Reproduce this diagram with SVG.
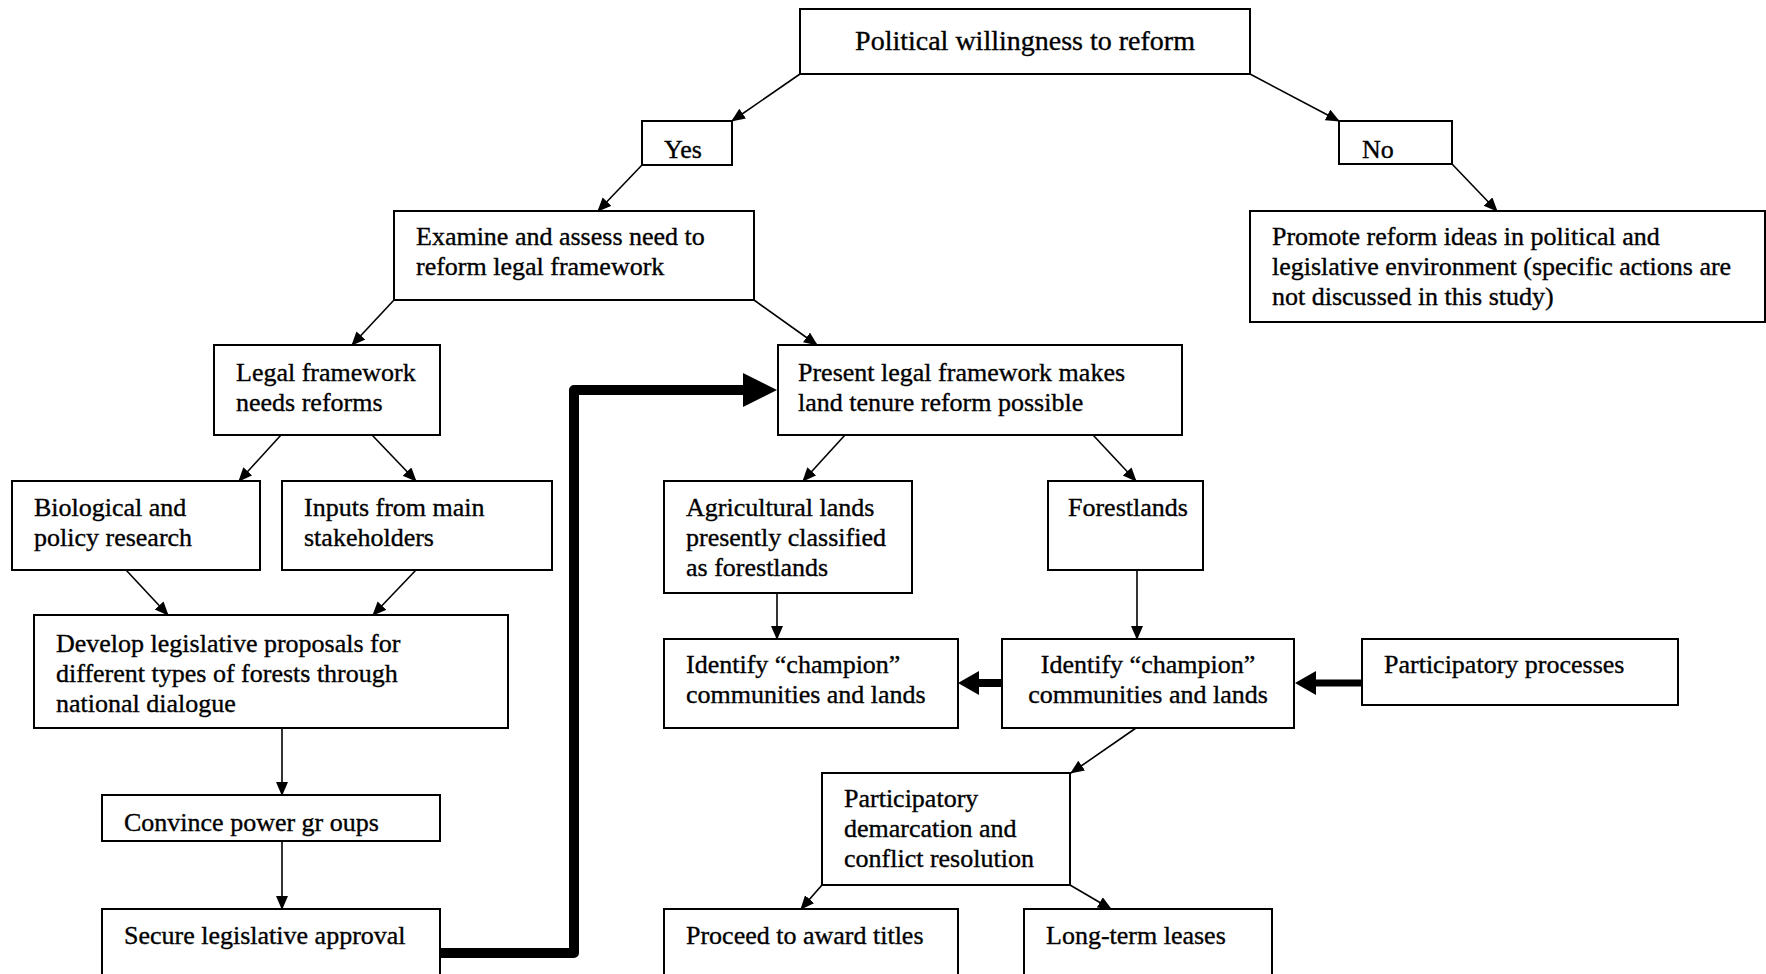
<svg xmlns="http://www.w3.org/2000/svg" width="1766" height="974" viewBox="0 0 1766 974">
<style>
.box{fill:#fff;stroke:#000;stroke-width:2}
.t{font-family:"Liberation Serif","Times New Roman",serif;font-size:26px;fill:#000;stroke:#000;stroke-width:0.35}
.big{font-size:28px}
.c{fill:none;stroke:#000;stroke-width:1.6;marker-end:url(#ah)}
.thick{fill:none;stroke:#000;stroke-linecap:round;stroke-linejoin:round}
</style>
<defs>
<marker id="ah" markerUnits="userSpaceOnUse" markerWidth="15" markerHeight="13" refX="13" refY="6" orient="auto">
<path d="M0,0 L14,6 L0,12 z" fill="#000"/>
</marker>
</defs>
<rect width="1766" height="974" fill="#fff"/>
<g id="connectors">
<path class="c" d="M800,74 L732,121"/>
<path class="c" d="M1250,74 L1339,121"/>
<path class="c" d="M642,165 L598,211"/>
<path class="c" d="M1452,164 L1497,211"/>
<path class="c" d="M394,300 L352,345"/>
<path class="c" d="M754,300 L817,345"/>
<path class="c" d="M281,435 L239,481"/>
<path class="c" d="M372,435 L416,481"/>
<path class="c" d="M126,570 L168,615"/>
<path class="c" d="M416,570 L373,615"/>
<path class="c" d="M282,728 L282,795"/>
<path class="c" d="M282,841 L282,909"/>
<path class="c" d="M845,435 L803,481"/>
<path class="c" d="M1093,435 L1136,481"/>
<path class="c" d="M777,593 L777,639"/>
<path class="c" d="M1137,570 L1137,639"/>
<path class="c" d="M1136,728 L1071,773"/>
<path class="c" d="M822,885 L801,909"/>
<path class="c" d="M1070,885 L1111,909"/>
<path class="thick" stroke-width="10" d="M435,953 L574,953 L574,390 L745,390"/>
<polygon points="743,373 777,390 743,407" fill="#000"/>
<path class="thick" stroke-width="8" stroke-linecap="butt" d="M1002,683 L976,683"/>
<polygon points="979,671 958,683 979,695" fill="#000"/>
<path class="thick" stroke-width="7" stroke-linecap="butt" d="M1362,683 L1314,683"/>
<polygon points="1316,671 1295,683 1316,695" fill="#000"/>
</g>
<g id="political"><rect class="box" x="800" y="9" width="450" height="65"/><text class="t big" x="1025" y="50" text-anchor="middle">Political willingness to reform</text></g>
<g id="yes"><rect class="box" x="642" y="121" width="90" height="44"/><text class="t" x="664" y="158">Yes</text></g>
<g id="no"><rect class="box" x="1339" y="121" width="113" height="43"/><text class="t" x="1362" y="158">No</text></g>
<g id="examine"><rect class="box" x="394" y="211" width="360" height="89"/><text class="t" x="416" y="245">Examine and assess need to</text><text class="t" x="416" y="275">reform legal framework</text></g>
<g id="promote"><rect class="box" x="1250" y="211" width="515" height="111"/><text class="t" x="1272" y="245">Promote reform ideas in political and</text><text class="t" x="1272" y="275">legislative environment (specific actions are</text><text class="t" x="1272" y="305">not discussed in this study)</text></g>
<g id="legal"><rect class="box" x="214" y="345" width="226" height="90"/><text class="t" x="236" y="381">Legal framework</text><text class="t" x="236" y="411">needs reforms</text></g>
<g id="present"><rect class="box" x="778" y="345" width="404" height="90"/><text class="t" x="798" y="381">Present legal framework makes</text><text class="t" x="798" y="411">land tenure reform possible</text></g>
<g id="bio"><rect class="box" x="12" y="481" width="248" height="89"/><text class="t" x="34" y="516">Biological and</text><text class="t" x="34" y="546">policy research</text></g>
<g id="inputs"><rect class="box" x="282" y="481" width="270" height="89"/><text class="t" x="304" y="516">Inputs from main</text><text class="t" x="304" y="546">stakeholders</text></g>
<g id="agri"><rect class="box" x="664" y="481" width="248" height="112"/><text class="t" x="686" y="516">Agricultural lands</text><text class="t" x="686" y="546">presently classified</text><text class="t" x="686" y="576">as forestlands</text></g>
<g id="forest"><rect class="box" x="1048" y="481" width="155" height="89"/><text class="t" x="1068" y="516">Forestlands</text></g>
<g id="develop"><rect class="box" x="34" y="615" width="474" height="113"/><text class="t" x="56" y="652">Develop legislative proposals for</text><text class="t" x="56" y="682">different types of forests through</text><text class="t" x="56" y="712">national dialogue</text></g>
<g id="ident1"><rect class="box" x="664" y="639" width="294" height="89"/><text class="t" x="686" y="673">Identify “champion”</text><text class="t" x="686" y="703">communities and lands</text></g>
<g id="ident2"><rect class="box" x="1002" y="639" width="292" height="89"/><text class="t" x="1148" y="673" text-anchor="middle">Identify “champion”</text><text class="t" x="1148" y="703" text-anchor="middle">communities and lands</text></g>
<g id="partproc"><rect class="box" x="1362" y="639" width="316" height="66"/><text class="t" x="1384" y="673">Participatory processes</text></g>
<g id="convince"><rect class="box" x="102" y="795" width="338" height="46"/><text class="t" x="124" y="831">Convince power gr oups</text></g>
<g id="demarc"><rect class="box" x="822" y="773" width="248" height="112"/><text class="t" x="844" y="807">Participatory</text><text class="t" x="844" y="837">demarcation and</text><text class="t" x="844" y="867">conflict resolution</text></g>
<g id="secure"><rect class="box" x="102" y="909" width="338" height="80"/><text class="t" x="124" y="944">Secure legislative approval</text></g>
<g id="proceed"><rect class="box" x="664" y="909" width="294" height="80"/><text class="t" x="686" y="944">Proceed to award titles</text></g>
<g id="longterm"><rect class="box" x="1024" y="909" width="248" height="80"/><text class="t" x="1046" y="944">Long-term leases</text></g>
</svg>
